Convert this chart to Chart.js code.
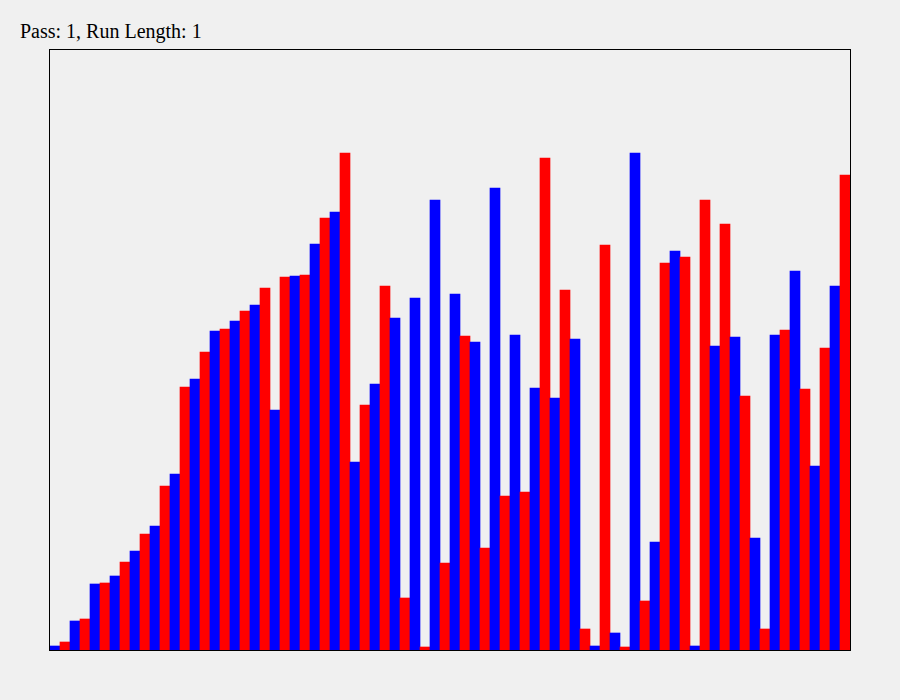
<!DOCTYPE html>
<html>
<head>
<meta charset="utf-8">
<script src="https://cdn.jsdelivr.net/npm/chart.js@4"></script>
<style>
    body { margin: 0; background: #f0f0f0; }
    #title {
        position: absolute;
        left: 20px;
        top: 21px;
        font-family: "Liberation Serif", "DejaVu Serif", serif;
        font-size: 20px;
        line-height: 20px;
        color: #000;
    }
    #sortChart { position: absolute; left: 0; top: 0; }
</style>
</head>
<body>
<div id="title">Pass: 1, Run Length: 1</div>
<canvas id="sortChart" width="900" height="700"></canvas>
<script>
// Bar heights, left to right (80 bars)
const values = [
    4, 8, 29, 31, 66, 67, 74, 88, 99, 116,
    124, 164, 176, 263, 271, 298, 319, 321, 329, 339,
    345, 362, 240, 373, 374, 375, 406, 432, 438, 497,
    188, 245, 266, 364, 332, 52, 352, 3, 450, 87,
    356, 314, 308, 102, 462, 154, 315, 158, 262, 492,
    252, 360, 311, 21, 4, 405, 17, 3, 497, 49,
    108, 387, 399, 393, 4, 450, 304, 426, 313, 254,
    112, 21, 315, 320, 379, 261, 184, 302, 364, 475
];
const labels = values.map((v, i) => String(i));

const Y_MAX = 600;

// Draws the black frame around the plot area
const frameBorder = {
    id: 'frameBorder',
    afterDraw(chart) {
        const { ctx, chartArea } = chart;
        ctx.save();
        ctx.strokeStyle = '#000';
        ctx.lineWidth = 1;
        ctx.strokeRect(chartArea.left - 0.5, chartArea.top - 0.5,
            chartArea.right - chartArea.left + 1, chartArea.bottom - chartArea.top + 1);
        ctx.restore();
    }
};

const ctx = document.getElementById('sortChart').getContext('2d');
new Chart(ctx, {
    type: 'bar',
    data: {
        labels: labels,
        datasets: [{
            data: values,
            backgroundColor: c => (c.dataIndex % 2 === 0 ? '#0000ff' : '#ff0000'),
            borderWidth: 0,
            barPercentage: 1,
            categoryPercentage: 1
        }]
    },
    options: {
        responsive: false,
        animation: false,
        layout: { padding: { left: 50, right: 50, top: 50, bottom: 50 } },
        plugins: {
            legend: { display: false },
            tooltip: { enabled: false },
            title: { display: false }
        },
        scales: {
            x: { display: false },
            y: { display: false, min: 0, max: Y_MAX }
        }
    },
    plugins: [frameBorder]
});
</script>
</body>
</html>
